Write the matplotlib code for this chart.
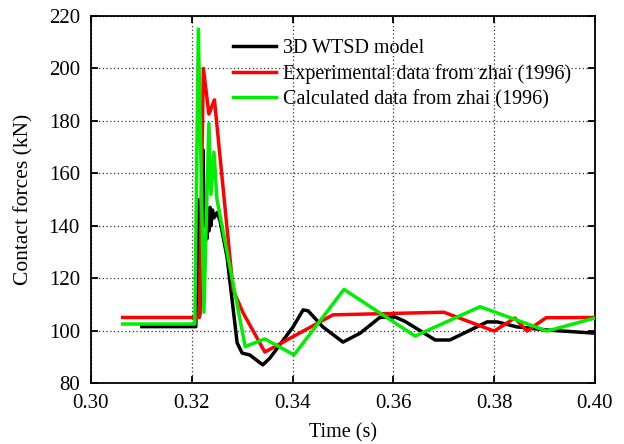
import matplotlib
matplotlib.use("Agg")
import matplotlib.pyplot as plt

plt.rcParams['font.family'] = ['Liberation Serif', 'DejaVu Serif']
plt.rcParams['font.size'] = 15

# 3D WTSD model
t_model = [0.3101, 0.3208, 0.3212, 0.3216, 0.3222, 0.3225, 0.3228, 0.3230, 0.3232,
           0.3234, 0.3236, 0.3238, 0.3241, 0.3244, 0.3250, 0.3256, 0.3270, 0.3290,
           0.3300, 0.3315, 0.3341, 0.3355, 0.3401, 0.3421, 0.3431, 0.3460, 0.3500,
           0.3534, 0.3573, 0.3603, 0.3623, 0.3683, 0.3712, 0.3786, 0.3806, 0.3845,
           0.3905, 0.4000]
f_model = [101.5, 101.5, 150, 106, 169, 140, 147, 135, 146,
           138, 147, 140, 146, 143, 145, 142, 128, 95.3,
           91.4, 90.7, 86.9, 89.5, 101.4, 107.9, 107.5, 101.4, 95.6,
           99.0, 105.0, 105.2, 103.5, 96.4, 96.4, 103.3, 103.3, 101.4,
           100.2, 99.0]

# Experimental data from zhai (1996)
t_exp = [0.3063, 0.3215, 0.3223, 0.3234, 0.3245, 0.3282, 0.3302, 0.3345, 0.3480,
         0.3700, 0.3800, 0.3841, 0.3865, 0.3903, 0.4000]
f_exp = [105, 105, 200, 182.6, 188, 115.5, 106.7, 91.8, 106,
         107, 99.8, 104.8, 99.8, 104.9, 105]

# Calculated data from zhai (1996)
t_calc = [0.3063, 0.3206, 0.3213, 0.3224, 0.3234, 0.3238, 0.3244, 0.3250, 0.3306,
          0.3345, 0.3403, 0.3502, 0.3643, 0.3772, 0.3905, 0.4000]
f_calc = [102.5, 102.5, 215, 107, 179, 152, 168, 150, 93.9,
          96.8, 90.7, 115.7, 97.9, 109.1, 99.8, 104.8]

xticks = [0.30, 0.32, 0.34, 0.36, 0.38, 0.40]
yticks = [80, 100, 120, 140, 160, 180, 200, 220]

fig = plt.figure(figsize=(6.24, 4.44), dpi=100)
ax = fig.add_axes([0.1458, 0.1374, 0.8077, 0.8266])

ax.plot(t_model, f_model, color='black', lw=2.5, label='3D WTSD model', zorder=3)
ax.plot(t_exp, f_exp, color='#ff0000', lw=2.5, label='Experimental data from zhai (1996)', zorder=4)
ax.plot(t_calc, f_calc, color='#00ee00', lw=2.5, label='Calculated data from zhai (1996)', zorder=5)

ax.set_xlim(0.30, 0.40)
ax.set_ylim(80, 220)
ax.set_xticks(xticks)
ax.set_xticklabels([f"{v:.2f}" for v in xticks])
ax.set_yticks(yticks)
ax.grid(True, linestyle=(0, (1, 2)), color='#333333', lw=0.9)
ax.tick_params(direction='in', length=5, width=1.3, top=True, right=True, pad=8)
for s in ax.spines.values():
    s.set_linewidth(1.3)

ax.set_xlabel('Time (s)', fontsize=14.5, labelpad=7)
ax.set_ylabel('Contact forces (kN)', fontsize=15.5, labelpad=11)

ax.legend(loc='upper left', bbox_to_anchor=(0.265, 0.96), frameon=False, fontsize=14.5,
          handlelength=2.15, handletextpad=0.35, labelspacing=0.3, borderaxespad=0)

fig.savefig('out.png', dpi=100)
